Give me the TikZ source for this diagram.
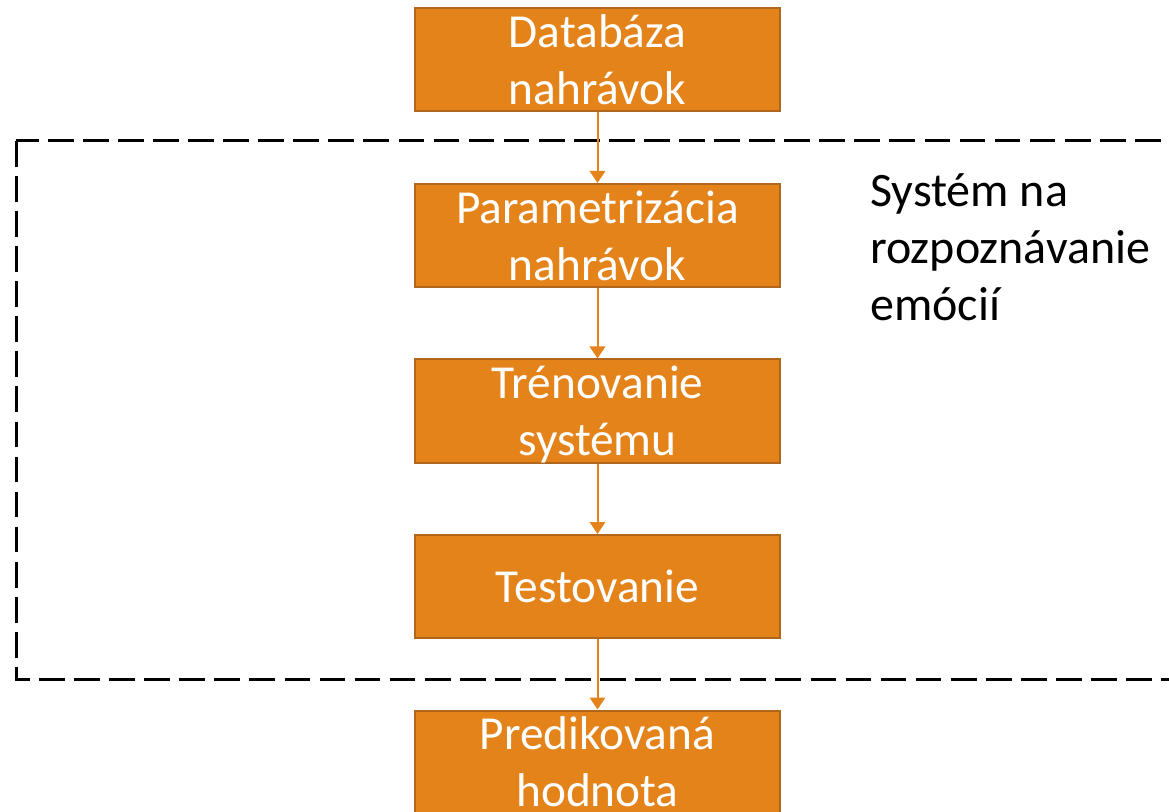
\documentclass[tikz,border=0pt]{standalone}
\usepackage{fontspec}
\setmainfont{Carlito}
\usetikzlibrary{arrows.meta}
\definecolor{boxfill}{HTML}{E3831A}
\definecolor{boxline}{HTML}{B0661C}
\newcommand\linestrut{\rule[-9pt]{0pt}{42pt}}
\tikzset{
  stepbox/.style={draw=boxline, line width=1.5pt, fill=boxfill, text=white,
    minimum width=273.75pt, minimum height=77.25pt, inner sep=0pt,
    align=center, font=\fontsize{35.5}{42.75}\selectfont},
  twolines/.style={text height=66.8pt, text depth=0pt},
  oneline/.style={text height=24pt, text depth=0pt},
  flow/.style={draw=boxfill, line width=1.5pt, -{Triangle[length=9pt,width=11.5pt]}},
  frame/.style={draw=black, line width=2.25pt, dash pattern=on 19.3pt off 7pt},
  label/.style={align=left, anchor=north west, inner sep=0pt, text=black,
    font=\fontsize{36}{41.6}\selectfont}
}
\begin{document}
\begin{tikzpicture}[x=0.75pt,y=-0.75pt]
\useasboundingbox (0,0) rectangle (1169,812);
\draw[frame] (16,141) rectangle (1190,679);
\node[stepbox,twolines] (db) at (597.5,60) {Databáza\\nahrávok};
\node[stepbox,twolines] (par) at (597.5,235.5) {Parametrizácia\\nahrávok};
\node[stepbox,twolines] (tr) at (597.5,411) {Trénovanie\\systému};
\node[stepbox,oneline] (te) at (597.5,586.5) {Testovanie};
\node[stepbox,twolines] (pr) at (597.5,762) {Predikovaná\\hodnota};
\node[label] (sys) at (870,162) {\linestrut Systém na\\\linestrut rozpoznávanie\\\linestrut emócií};
\draw[flow] (db) -- (par);
\draw[flow] (par) -- (tr);
\draw[flow] (tr) -- (te);
\draw[flow] (te) -- (pr);
\end{tikzpicture}
\end{document}
